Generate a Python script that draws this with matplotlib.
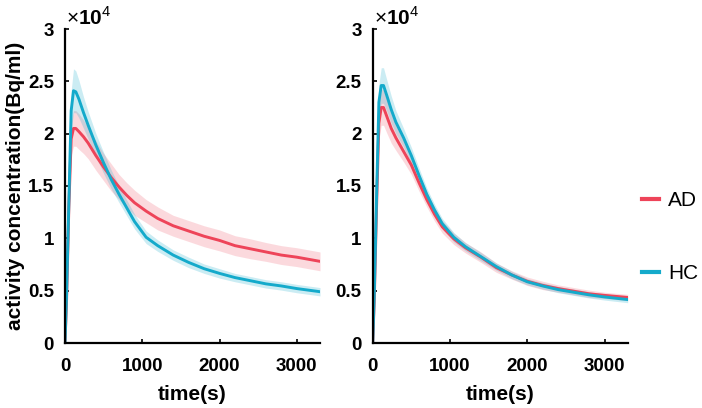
import matplotlib
matplotlib.use("Agg")
import matplotlib.pyplot as plt
from matplotlib.lines import Line2D
import numpy as np

plt.rcParams['font.family'] = ['Liberation Sans', 'DejaVu Sans']
plt.rcParams['mathtext.fontset'] = 'custom'
plt.rcParams['mathtext.rm'] = 'Liberation Sans'
plt.rcParams['mathtext.bf'] = 'Liberation Sans:bold'

# time points (s)
time = [0, 20, 50, 80, 110, 140, 180, 240, 300, 400, 500, 600, 700, 800, 900,
        1050, 1200, 1400, 1600, 1800, 2000, 2200, 2400, 2600, 2800, 3000, 3300]

# Left panel (x1e4 Bq/ml)
ad_left = [0, 0.40, 1.30, 1.95, 2.05, 2.05, 2.02, 1.97, 1.91, 1.79, 1.68, 1.58, 1.49, 1.41, 1.34,
           1.26, 1.19, 1.12, 1.07, 1.02, 0.98, 0.93, 0.90, 0.87, 0.84, 0.82, 0.78]
ad_left_sd = [0, 0.05, 0.12, 0.16, 0.17, 0.17, 0.17, 0.16, 0.15, 0.14, 0.13, 0.13, 0.12, 0.12, 0.12,
              0.11, 0.11, 0.10, 0.10, 0.10, 0.10, 0.095, 0.095, 0.09, 0.09, 0.09, 0.09]
hc_left = [0, 0.45, 1.35, 2.22, 2.41, 2.40, 2.33, 2.20, 2.08, 1.89, 1.72, 1.56, 1.42, 1.29, 1.16,
           1.01, 0.93, 0.84, 0.77, 0.71, 0.665, 0.625, 0.595, 0.565, 0.545, 0.52, 0.49]
hc_left_sd = [0, 0.05, 0.14, 0.19, 0.21, 0.20, 0.18, 0.15, 0.13, 0.11, 0.10, 0.09, 0.08, 0.075, 0.07,
              0.06, 0.055, 0.05, 0.05, 0.045, 0.045, 0.04, 0.04, 0.04, 0.04, 0.04, 0.04]

# Right panel (x1e4 Bq/ml)
ad_right = [0, 0.40, 1.30, 2.10, 2.25, 2.25, 2.17, 2.05, 1.96, 1.83, 1.70, 1.53, 1.37, 1.23, 1.11,
            0.995, 0.91, 0.82, 0.72, 0.65, 0.59, 0.55, 0.52, 0.495, 0.47, 0.455, 0.435]
ad_right_sd = [0, 0.05, 0.12, 0.16, 0.17, 0.17, 0.16, 0.14, 0.12, 0.10, 0.09, 0.08, 0.07, 0.065, 0.06,
               0.055, 0.05, 0.05, 0.045, 0.04, 0.04, 0.04, 0.035, 0.035, 0.035, 0.03, 0.03]
hc_right = [0, 0.45, 1.40, 2.30, 2.46, 2.46, 2.37, 2.23, 2.11, 1.96, 1.79, 1.60, 1.42, 1.27, 1.14,
            1.01, 0.92, 0.825, 0.73, 0.65, 0.585, 0.545, 0.51, 0.485, 0.46, 0.44, 0.415]
hc_right_sd = [0, 0.05, 0.13, 0.17, 0.17, 0.17, 0.15, 0.13, 0.11, 0.09, 0.08, 0.07, 0.06, 0.055, 0.05,
               0.045, 0.04, 0.04, 0.035, 0.035, 0.03, 0.03, 0.03, 0.03, 0.03, 0.03, 0.03]

labels = ['AD', 'HC']
red = '#EE4459'
blue = '#14AACB'

fig = plt.figure(figsize=(7.02, 4.08), dpi=100)
ax1 = fig.add_axes([65/702, 1-343/408, 255/702, 314/408])
ax2 = fig.add_axes([372.7/702, 1-343/408, 255/702, 314/408])

t = np.array(time)
for ax, (ad, adsd, hc, hcsd) in zip(
        [ax1, ax2],
        [(ad_left, ad_left_sd, hc_left, hc_left_sd),
         (ad_right, ad_right_sd, hc_right, hc_right_sd)]):
    ad = np.array(ad); adsd = np.array(adsd)
    hc = np.array(hc); hcsd = np.array(hcsd)
    ax.fill_between(t, ad - adsd, ad + adsd, color=red, alpha=0.2, lw=0)
    ax.fill_between(t, hc - hcsd, hc + hcsd, color=blue, alpha=0.22, lw=0)
    ax.plot(t, ad, color=red, lw=2.1)
    ax.plot(t, hc, color=blue, lw=2.1)
    ax.set_xlim(0, 3300)
    ax.set_ylim(0, 3)
    ax.set_xticks([0, 1000, 2000, 3000])
    ax.set_yticks([0, 0.5, 1, 1.5, 2, 2.5, 3])
    ax.set_yticklabels(['0', '0.5', '1', '1.5', '2', '2.5', '3'])
    for s in ['top', 'right']:
        ax.spines[s].set_visible(False)
    for s in ['left', 'bottom']:
        ax.spines[s].set_linewidth(1.6)
    ax.tick_params(direction='in', length=3, width=1.2, labelsize=13.5)
    ax.tick_params(axis='x', pad=11)
    ax.tick_params(axis='y', pad=8)
    for lab in ax.get_xticklabels() + ax.get_yticklabels():
        lab.set_fontweight('bold')
    ax.set_xlabel('time(s)', fontsize=15, fontweight='bold', labelpad=7)
    ax.text(0.005, 1.0, r'$\times\mathbf{10}^{\mathregular{4}}$', transform=ax.transAxes,
            fontsize=15, ha='left', va='bottom')

ax1.set_ylabel('activity concentration(Bq/ml)', fontsize=15, fontweight='bold', labelpad=2)

handles = [Line2D([], [], color=red, lw=3), Line2D([], [], color=blue, lw=3)]
fig.legend(handles, labels, loc='center left', bbox_to_anchor=(642/702, 1-237/408),
           frameon=False, fontsize=15, handlelength=0.8, handletextpad=0.45,
           labelspacing=2.6, borderpad=0, borderaxespad=0)

fig.savefig('out.png', dpi=100)
